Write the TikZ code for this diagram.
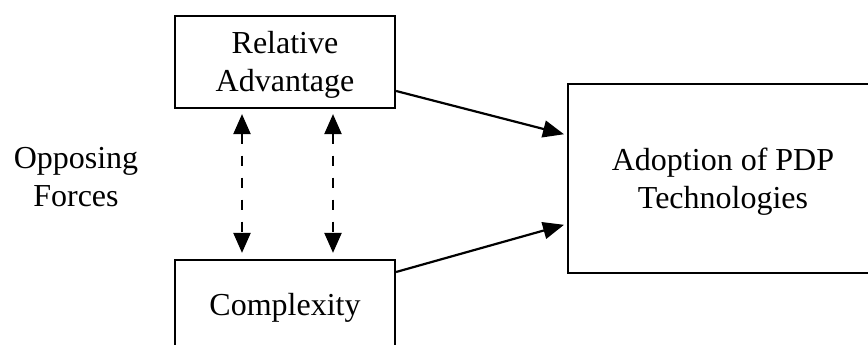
\documentclass[tikz,border=0pt]{standalone}
\usepackage{fontspec}
\setmainfont{Liberation Serif}
\usetikzlibrary{arrows.meta}
\begin{document}
\begin{tikzpicture}[x=1pt,y=1pt,
  box/.style={draw, line width=2.2pt, rectangle, inner sep=0pt},
  caption/.style={align=center, inner sep=0pt, font=\fontsize{32pt}{37.5pt}\selectfont},
  flow/.style={line width=2.2pt, -{Triangle[length=21pt,width=17pt]}},
  both/.style={line width=2.2pt, dash pattern=on 10pt off 12pt,
    {Triangle[length=20pt,width=17pt]}-{Triangle[length=20pt,width=17pt]}}]
\useasboundingbox (0,0) rectangle (868,345);
\clip (0,0) rectangle (868,345);

% factor boxes
\node[box, minimum width=220pt, minimum height=92pt] (rel) at (285,283) {};
\node[box, minimum width=220pt, minimum height=91pt] (cpx) at (285,39.5) {};
\node[box, minimum width=310pt, minimum height=189pt] (adp) at (723,166.5) {};

% box texts
\node[caption] (relt) at ([yshift=-3pt]rel.center) {Relative\\Advantage};
\node[caption] (cpxt) at ([yshift=-2.5pt]cpx.center) {Complexity};
\node[caption] (adpt) at ([yshift=-3pt]adp.center) {Adoption of PDP\\Technologies};

% side caption
\node[caption] (opp) at (76,168) {Opposing\\Forces};

% opposing forces between the two factors
\draw[both, shorten <=5pt, shorten >=6pt] ([xshift=-43pt]rel.south) -- ([xshift=-43pt]cpx.north);
\draw[both, shorten <=5pt, shorten >=6pt] ([xshift=48pt]rel.south) -- ([xshift=48pt]cpx.north);

% influence on adoption
\draw[flow, shorten >=3pt] ([yshift=-29pt]rel.east) -- ([yshift=43.5pt]adp.west);
\draw[flow, shorten >=3pt] ([yshift=33.5pt]cpx.east) -- ([yshift=-45.5pt]adp.west);
\end{tikzpicture}
\end{document}
